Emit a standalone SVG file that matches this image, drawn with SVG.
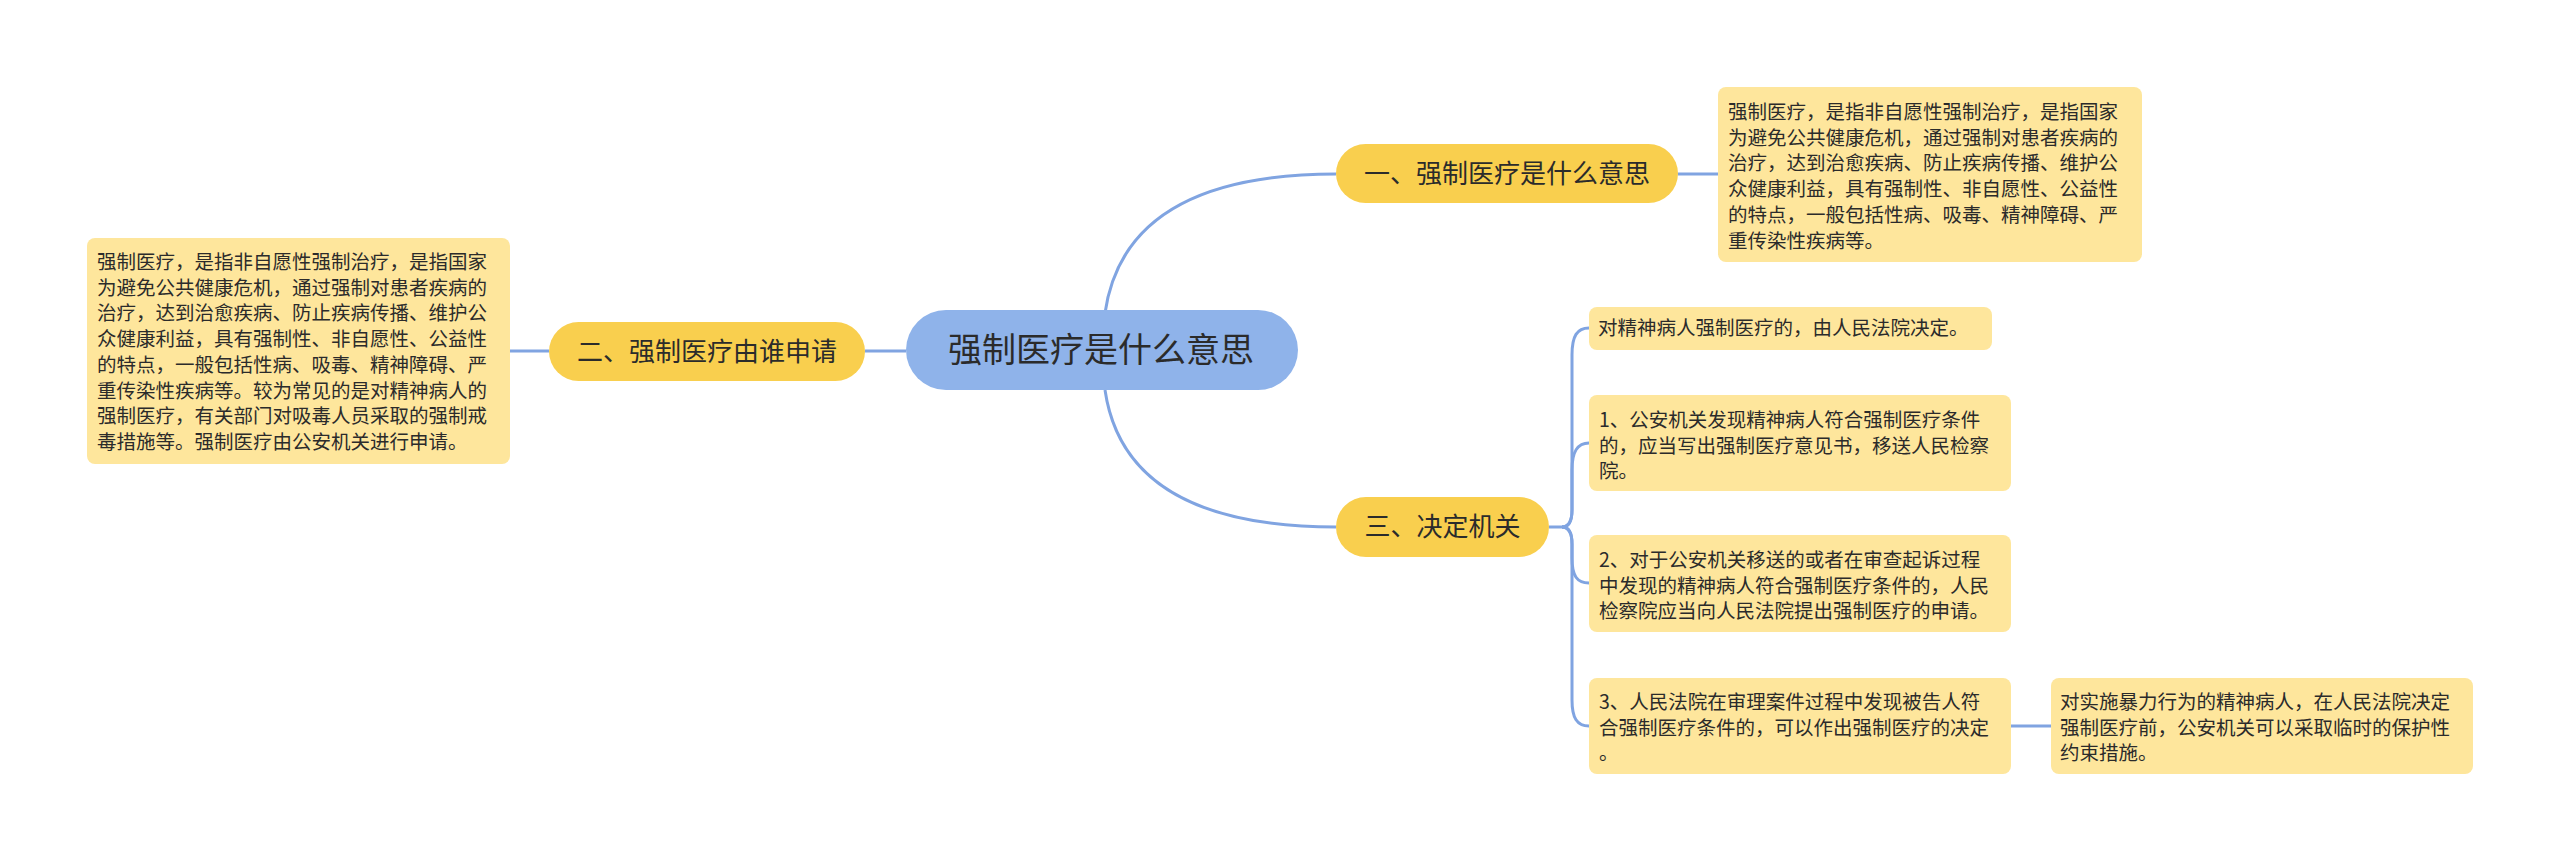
<svg xmlns="http://www.w3.org/2000/svg" width="2560" height="862" viewBox="0 0 2560 862">
<style>
.t{font-family:"Noto Sans CJK SC","Liberation Sans",sans-serif;fill:#2b2b2b}
.box{fill:#fee69c}
.sub{fill:#f9cf4e}
.c{fill:none;stroke:#80a4e1;stroke-width:3}
.s{font-size:19.5px}
.m{font-size:26px}
</style>
<rect width="2560" height="862" fill="#ffffff"/>
<g id="connectors">
<path class="c" d="M1105 313 Q1125 174 1336 174"/>
<path class="c" d="M1105 390 Q1125 527 1336 527"/>
<path class="c" d="M906 351 L865 351"/>
<path class="c" d="M549 351 L509 351"/>
<path class="c" d="M1678 174 L1718 174"/>
<path class="c" d="M1549 527 L1562 527 Q1572 527 1572 510 L1572 355 C1572 336 1577 328 1589 328"/>
<path class="c" d="M1562 527 Q1572 527 1572 510 L1572 470 C1572 452 1577 443 1589 443"/>
<path class="c" d="M1562 527 Q1572 527 1572 544 L1572 558 C1572 576 1577 583 1589 583"/>
<path class="c" d="M1562 527 Q1572 527 1572 544 L1572 700 C1572 718 1577 726 1589 726"/>
<path class="c" d="M2011 726 L2051 726"/>
</g>
<g id="center">
<rect x="906" y="310" width="392" height="80" rx="40" fill="#8fb3ea"/>
<text class="t" x="1101" y="362" font-size="34" text-anchor="middle" fill="#333">强制医疗是什么意思</text>
</g>
<g id="n1">
<rect class="sub" x="1336" y="144" width="342" height="59" rx="29.5"/>
<text class="t m" x="1507" y="183" text-anchor="middle">一、强制医疗是什么意思</text>
</g>
<g id="n1d">
<rect class="box" x="1718" y="87" width="424" height="175" rx="8"/>
<text class="t s" x="1728" y="119">强制医疗，是指非自愿性强制治疗，是指国家</text>
<text class="t s" x="1728" y="144.7">为避免公共健康危机，通过强制对患者疾病的</text>
<text class="t s" x="1728" y="170.4">治疗，达到治愈疾病、防止疾病传播、维护公</text>
<text class="t s" x="1728" y="196.1">众健康利益，具有强制性、非自愿性、公益性</text>
<text class="t s" x="1728" y="221.8">的特点，一般包括性病、吸毒、精神障碍、严</text>
<text class="t s" x="1728" y="247.5">重传染性疾病等。</text>
</g>
<g id="n2">
<rect class="sub" x="549" y="322" width="316" height="59" rx="29.5"/>
<text class="t m" x="707" y="361" text-anchor="middle">二、强制医疗由谁申请</text>
</g>
<g id="n2d">
<rect class="box" x="87" y="238" width="423" height="226" rx="8"/>
<text class="t s" x="97" y="269">强制医疗，是指非自愿性强制治疗，是指国家</text>
<text class="t s" x="97" y="294.7">为避免公共健康危机，通过强制对患者疾病的</text>
<text class="t s" x="97" y="320.4">治疗，达到治愈疾病、防止疾病传播、维护公</text>
<text class="t s" x="97" y="346.1">众健康利益，具有强制性、非自愿性、公益性</text>
<text class="t s" x="97" y="371.8">的特点，一般包括性病、吸毒、精神障碍、严</text>
<text class="t s" x="97" y="397.5">重传染性疾病等。较为常见的是对精神病人的</text>
<text class="t s" x="97" y="423.2">强制医疗，有关部门对吸毒人员采取的强制戒</text>
<text class="t s" x="97" y="448.9">毒措施等。强制医疗由公安机关进行申请。</text>
</g>
<g id="n3">
<rect class="sub" x="1336" y="497" width="213" height="60" rx="30"/>
<text class="t m" x="1442.5" y="536" text-anchor="middle">三、决定机关</text>
</g>
<g id="n3a">
<rect class="box" x="1589" y="307" width="403" height="43" rx="8"/>
<text class="t s" x="1598" y="335">对精神病人强制医疗的，由人民法院决定。</text>
</g>
<g id="n3b">
<rect class="box" x="1589" y="395" width="422" height="96" rx="8"/>
<text class="t s" x="1599" y="427">1、公安机关发现精神病人符合强制医疗条件</text>
<text class="t s" x="1599" y="452.7">的，应当写出强制医疗意见书，移送人民检察</text>
<text class="t s" x="1599" y="478.4">院。</text>
</g>
<g id="n3c">
<rect class="box" x="1589" y="535" width="422" height="97" rx="8"/>
<text class="t s" x="1599" y="567">2、对于公安机关移送的或者在审查起诉过程</text>
<text class="t s" x="1599" y="592.7">中发现的精神病人符合强制医疗条件的，人民</text>
<text class="t s" x="1599" y="618.4">检察院应当向人民法院提出强制医疗的申请。</text>
</g>
<g id="n3d">
<rect class="box" x="1589" y="678" width="422" height="96" rx="8"/>
<text class="t s" x="1599" y="709">3、人民法院在审理案件过程中发现被告人符</text>
<text class="t s" x="1599" y="734.7">合强制医疗条件的，可以作出强制医疗的决定</text>
<text class="t s" x="1599" y="760.4">。</text>
</g>
<g id="n3e">
<rect class="box" x="2051" y="678" width="422" height="96" rx="8"/>
<text class="t s" x="2060" y="709">对实施暴力行为的精神病人，在人民法院决定</text>
<text class="t s" x="2060" y="734.7">强制医疗前，公安机关可以采取临时的保护性</text>
<text class="t s" x="2060" y="760.4">约束措施。</text>
</g>
</svg>
